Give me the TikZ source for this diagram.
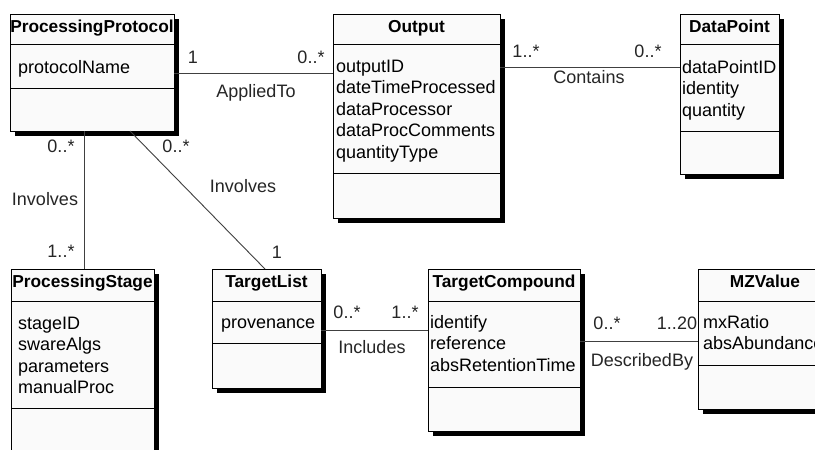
\documentclass[tikz,border=0pt]{standalone}
\usepackage{fontspec}
\setmainfont{Liberation Sans}
\usetikzlibrary{shadows}

\tikzset{
  classbox/.style={draw=black, line width=1pt, fill=white!98!black,
    anchor=north west, inner sep=0pt, outer sep=0pt,
    drop shadow={shadow xshift=4.5pt, shadow yshift=-4.5pt, fill=black, opacity=1}},
  rule/.style={draw=black, line width=1pt},
  title/.style={font=\fontsize{17.3}{20}\selectfont\bfseries, anchor=base, inner sep=0pt},
  attr/.style={font=\fontsize{18}{21.5}\selectfont, anchor=base west, inner sep=0pt},
  assoc/.style={draw=black!75, line width=0.9pt},
  mult/.style={font=\fontsize{18}{21.5}\selectfont, text=black!85, anchor=base, inner sep=0pt},
}

% attribute lines of a class: name prefix, left x, first baseline, items
\newcommand\attrlines[4]{%
  \foreach \txt [count=\k from 0] in {#4}
    \node[attr] (#1-\k) at ({#2},{#3+21.5*\k}) {\txt};
}

\begin{document}
\begin{tikzpicture}[x=1pt, y=-1pt]
\useasboundingbox (0,0) rectangle (815,450);
\clip (0,0) rectangle (815,450);
\fill[white] (0,0) rectangle (815,450);

% ---- class boxes ----
\node[classbox, minimum width=164pt, minimum height=117pt] (pp)  at (10,14)  {};
\node[classbox, minimum width=167pt, minimum height=204pt] (out) at (333,14) {};
\node[classbox, minimum width=99pt,  minimum height=160pt] (dp)  at (680,14) {};
\node[classbox, minimum width=143pt, minimum height=200pt] (ps)  at (11,269) {};
\node[classbox, minimum width=109pt, minimum height=119pt] (tl)  at (212,269) {};
\node[classbox, minimum width=152pt, minimum height=162pt] (tc)  at (428,269) {};
\node[classbox, minimum width=134pt, minimum height=140pt] (mz)  at (698,269) {};

% compartment rules
\draw[rule] (pp.west |- 0,44)  -- (pp.east |- 0,44);
\draw[rule] (pp.west |- 0,88)  -- (pp.east |- 0,88);
\draw[rule] (out.west |- 0,44) -- (out.east |- 0,44);
\draw[rule] (out.west |- 0,173) -- (out.east |- 0,173);
\draw[rule] (dp.west |- 0,44)  -- (dp.east |- 0,44);
\draw[rule] (dp.west |- 0,131) -- (dp.east |- 0,131);
\draw[rule] (ps.west |- 0,301) -- (ps.east |- 0,301);
\draw[rule] (ps.west |- 0,408) -- (ps.east |- 0,408);
\draw[rule] (tl.west |- 0,301) -- (tl.east |- 0,301);
\draw[rule] (tl.west |- 0,343) -- (tl.east |- 0,343);
\draw[rule] (tc.west |- 0,301) -- (tc.east |- 0,301);
\draw[rule] (tc.west |- 0,387) -- (tc.east |- 0,387);
\draw[rule] (mz.west |- 0,301) -- (mz.east |- 0,301);
\draw[rule] (mz.west |- 0,365) -- (mz.east |- 0,365);

% class names
\node[title] (pp-t)  at (pp.north |- 0,32)  {ProcessingProtocol};
\node[title] (out-t) at (out.north |- 0,32) {Output};
\node[title] (dp-t)  at (dp.north |- 0,32)  {DataPoint};
\node[title] (ps-t)  at (ps.north |- 0,287) {ProcessingStage};
\node[title] (tl-t)  at (tl.north |- 0,287) {TargetList};
\node[title] (tc-t)  at (tc.north |- 0,287) {TargetCompound};
\node[title] (mz-t)  at (mz.north |- 0,287) {MZValue};

% attributes
\attrlines{ppa}{18}{73}{protocolName}
\attrlines{outa}{336}{72}{outputID,dateTimeProcessed,dataProcessor,dataProcComments,quantityType}
\attrlines{dpa}{682}{73}{dataPointID,identity,quantity}
\attrlines{psa}{18}{329}{stageID,swareAlgs,parameters,manualProc}
\attrlines{tla}{221}{328}{provenance}
\attrlines{tca}{430}{328}{identify,reference,absRetentionTime}
\attrlines{mza}{703}{328}{mxRatio,absAbundance}

% ---- associations ----
\draw[assoc] (pp.east |- 0,73)  -- (out.west |- 0,73);
\draw[assoc] (out.east |- 0,67) -- (dp.west |- 0,67);
\draw[assoc] (pp.south -| 84,0) -- (ps.north -| 84,0);
\draw[assoc] (pp.south -| 130,0) -- (tl.north -| 265,0);
\draw[assoc] (tl.east |- 0,330) -- (tc.west |- 0,330);
\draw[assoc] (tc.east |- 0,341) -- (mz.west |- 0,341);

% association names and multiplicities
\node[mult] (m-at1) at (193,63) {1};
\node[mult] (m-at2) at (311,63) {0..*};
\node[mult] (n-at)  at (256,97) {AppliedTo};

\node[mult] (m-co1) at (526,57) {1..*};
\node[mult] (m-co2) at (648,57) {0..*};
\node[mult] (n-co)  at (589,83) {Contains};

\node[mult] (m-iv1) at (61,152) {0..*};
\node[mult] (n-iv)  at (45,205) {Involves};
\node[mult] (m-iv2) at (61,257) {1..*};

\node[mult] (m-iw1) at (176,152) {0..*};
\node[mult] (n-iw)  at (243,192) {Involves};
\node[mult] (m-iw2) at (277,258) {1};

\node[mult] (m-in1) at (347,318) {0..*};
\node[mult] (m-in2) at (405,318) {1..*};
\node[mult] (n-in)  at (372,353) {Includes};

\node[mult] (m-db1) at (607,329) {0..*};
\node[mult] (m-db2) at (677,329) {1..20};
\node[mult] (n-db)  at (642,366) {DescribedBy};
\end{tikzpicture}
\end{document}
